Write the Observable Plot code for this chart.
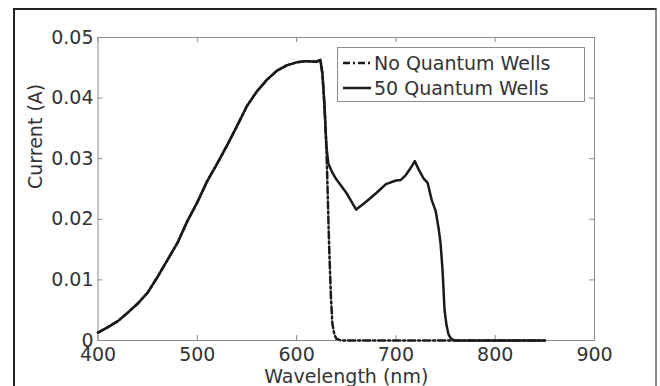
<!DOCTYPE html>
<html>
<head>
<meta charset="utf-8">
<script src="https://cdn.jsdelivr.net/npm/d3@7"></script>
<script src="https://cdn.jsdelivr.net/npm/@observablehq/plot@0.6"></script>
<style>
  html, body { margin: 0; padding: 0; background: #fff; overflow: hidden; }
  #wrap { position: relative; width: 660px; height: 386px; font-family: "DejaVu Sans", sans-serif; color: #333; }
  #frame { position: absolute; left: 13px; top: 8px; width: 640px; height: 420px;
           border-left: 2px solid #222; border-top: 2px solid #222; border-right: 2px solid #888; }
  #chart { position: absolute; left: 0; top: 0; }
  #legend { position: absolute; left: 337px; top: 47px; width: 246px; height: 53px;
            border: 1px solid #8c8c8c; background: #fff; font-size: 19px; color: #333; }
  .row { position: absolute; left: 5px; height: 25px; display: flex; align-items: center; white-space: nowrap; }
  .row svg { margin-right: 3px; }
</style>
</head>
<body>
<div id="wrap">
  <div id="frame"></div>
  <div id="chart"></div>
  <div id="legend">
    <div class="row" style="top:2px"><svg width="28" height="6"><line x1="0" y1="3" x2="28" y2="3" stroke="#1a1a1a" stroke-width="2.5" stroke-dasharray="7,3,2,3"/></svg><span>No Quantum Wells</span></div>
    <div class="row" style="top:27px"><svg width="28" height="6"><line x1="0" y1="3" x2="28" y2="3" stroke="#1a1a1a" stroke-width="2.5"/></svg><span>50 Quantum Wells</span></div>
  </div>
</div>
<script>
// ---- data ----
const seriesNames = ["No Quantum Wells", "50 Quantum Wells"];
const xTicks = [400, 500, 600, 700, 800, 900];
const yTicks = [0, 0.01, 0.02, 0.03, 0.04, 0.05];
const xLabel = "Wavelength (nm)";
const yLabel = "Current (A)";

const wl50 = [400, 410, 420, 430, 440, 450, 460, 470, 480, 490, 500, 510, 520, 530, 540, 550, 560, 570, 580, 590, 600, 610, 620, 624, 626, 628, 630, 632, 636, 640, 650, 655, 660, 670, 680, 690, 700, 705, 710, 715, 719, 723, 728, 732, 736, 740, 743, 745, 747, 749, 751, 753, 756, 760, 850];
const cur50 = [0.0013, 0.0022, 0.0032, 0.0046, 0.0061, 0.0079, 0.0105, 0.0133, 0.0161, 0.0197, 0.0228, 0.0263, 0.0292, 0.0322, 0.0354, 0.0387, 0.0411, 0.0430, 0.0445, 0.0454, 0.0459, 0.0461, 0.0460, 0.0463, 0.0440, 0.0390, 0.0320, 0.0292, 0.0277, 0.0266, 0.0244, 0.0230, 0.0216, 0.0229, 0.0243, 0.0258, 0.0264, 0.0265, 0.0273, 0.0285, 0.0296, 0.0282, 0.0267, 0.0260, 0.0232, 0.0214, 0.0185, 0.0160, 0.0115, 0.0050, 0.0025, 0.0010, 0.0002, 0, 0];

const wlNo = [400, 410, 420, 430, 440, 450, 460, 470, 480, 490, 500, 510, 520, 530, 540, 550, 560, 570, 580, 590, 600, 610, 620, 624, 626, 628, 630, 631, 632, 633, 634.5, 636, 638, 640, 645, 850];
const curNo = [0.0013, 0.0022, 0.0032, 0.0046, 0.0061, 0.0079, 0.0105, 0.0133, 0.0161, 0.0197, 0.0228, 0.0263, 0.0292, 0.0322, 0.0354, 0.0387, 0.0411, 0.0430, 0.0445, 0.0454, 0.0459, 0.0461, 0.0460, 0.0463, 0.0440, 0.0390, 0.0320, 0.0262, 0.0200, 0.0145, 0.0075, 0.0028, 0.0010, 0.0003, 0, 0];

const dataNo = wlNo.map((w, i) => ({w, c: curNo[i]}));
const data50 = wl50.map((w, i) => ({w, c: cur50[i]}));

// ---- layout ----
const W = 660, H = 386;
const mL = 97.5, mR = 66, mT = 37, mB = 46;
const plotW = W - mL - mR, plotH = H - mT - mB;
const tickLen = 5;
const gray = "#8c8c8c";

const chart = Plot.plot({
  width: W, height: H,
  marginLeft: mL, marginRight: mR, marginTop: mT, marginBottom: mB,
  style: {fontFamily: "DejaVu Sans, sans-serif", fontSize: "19px", color: "#333", background: "transparent", overflow: "visible"},
  x: {domain: [400, 900]},
  y: {domain: [0, 0.05]},
  marks: [
    Plot.frame({stroke: gray, strokeWidth: 1}),
    Plot.ruleX(xTicks, {x: d => d, insetTop: plotH - tickLen, stroke: gray}),
    Plot.ruleX(xTicks, {x: d => d, insetBottom: plotH - tickLen, stroke: gray}),
    Plot.ruleY(yTicks, {y: d => d, insetRight: plotW - tickLen, stroke: gray}),
    Plot.ruleY(yTicks, {y: d => d, insetLeft: plotW - tickLen, stroke: gray}),
    Plot.axisX(xTicks, {tickSize: 0, tickPadding: 7, label: null, tickFormat: d => String(d), fill: "#333"}),
    Plot.axisY(yTicks, {tickSize: 0, tickPadding: 4.5, label: null, tickFormat: d => d === 0 ? "0" : d.toFixed(2), fill: "#333"}),
    Plot.line(dataNo, {x: "w", y: "c", stroke: "#1a1a1a", strokeWidth: 2.5, strokeDasharray: "7,3,2,3", curve: "linear"}),
    Plot.line(data50, {x: "w", y: "c", stroke: "#1a1a1a", strokeWidth: 2.5, curve: "linear"}),
    Plot.text([xLabel], {frameAnchor: "bottom", dy: 42, text: d => d, fill: "#333"}),
    Plot.text([yLabel], {frameAnchor: "left", dx: -62, rotate: -90, text: d => d, fill: "#333"})
  ]
});
document.getElementById("chart").appendChild(chart);
</script>
</body>
</html>
